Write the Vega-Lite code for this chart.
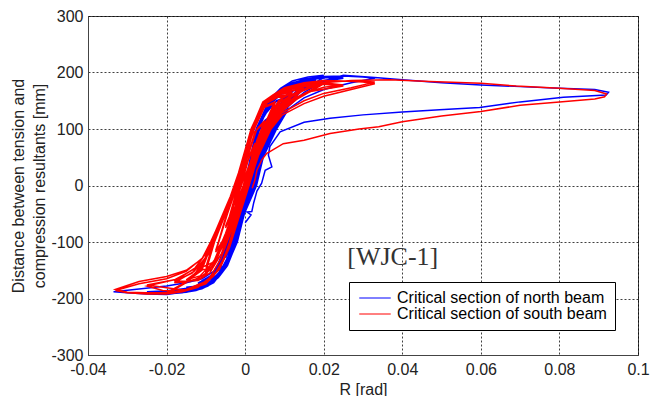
{
"$schema":"https://vega.github.io/schema/vega-lite/v6.json",
"width":550,"height":339,
"autosize":{"type":"none"},
"padding":{"left":88,"top":16,"right":24,"bottom":41},
"background":"white",
"config":{"view":{"stroke":"#444","strokeWidth":1},"font":"Liberation Sans"},
"datasets":{
"north":[
{"x":0.0015,"y":0},{"x":0.002,"y":15},{"x":0.0025,"y":30},
{"x":0.0012,"y":0},{"x":0,"y":-30},{"x":-0.0012,"y":-60},{"x":-0.0025,"y":-85},
{"x":-0.0008,"y":-50},{"x":0.0006,"y":-15},{"x":0.002,"y":15},{"x":0.0025,"y":28},
{"x":0.001,"y":-5},{"x":-0.0005,"y":-40},{"x":-0.0025,"y":-82},
{"x":-0.0008,"y":-45},{"x":0.0012,"y":0},{"x":0.0028,"y":40},{"x":0.004,"y":70},{"x":0.005,"y":92},
{"x":0.0035,"y":80},{"x":0.0022,"y":50},{"x":0.0008,"y":0},{"x":-0.0012,"y":-50},{"x":-0.0032,"y":-100},{"x":-0.005,"y":-128},
{"x":-0.003,"y":-100},{"x":-0.001,"y":-50},{"x":0.0014,"y":0},{"x":0.003,"y":45},{"x":0.0042,"y":72},{"x":0.005,"y":90},
{"x":0.0033,"y":78},{"x":0.002,"y":50},{"x":0.0006,"y":0},{"x":-0.0014,"y":-50},{"x":-0.0034,"y":-100},{"x":-0.005,"y":-126},
{"x":-0.0028,"y":-100},{"x":-0.0008,"y":-50},{"x":0.0017,"y":0},{"x":0.0034,"y":50},{"x":0.0058,"y":100},{"x":0.0075,"y":128},
{"x":0.005,"y":115},{"x":0.003,"y":90},{"x":0.0018,"y":50},{"x":0.0005,"y":0},{"x":-0.0015,"y":-50},{"x":-0.0037,"y":-100},{"x":-0.0062,"y":-140},{"x":-0.0075,"y":-153},
{"x":-0.0055,"y":-145},{"x":-0.0028,"y":-100},{"x":-0.0007,"y":-50},{"x":0.0019,"y":0},{"x":0.0036,"y":50},{"x":0.006,"y":100},{"x":0.0075,"y":126},
{"x":0.0048,"y":112},{"x":0.0028,"y":90},{"x":0.0017,"y":50},{"x":0.0004,"y":0},{"x":-0.0016,"y":-50},{"x":-0.0038,"y":-100},{"x":-0.0064,"y":-140},{"x":-0.0075,"y":-150},
{"x":-0.005,"y":-140},{"x":-0.0026,"y":-100},{"x":-0.0006,"y":-50},{"x":0.0021,"y":0},{"x":0.0038,"y":50},{"x":0.0065,"y":100},{"x":0.0085,"y":135},{"x":0.01,"y":155},
{"x":0.008,"y":150},{"x":0.0055,"y":130},{"x":0.003,"y":100},{"x":0.0017,"y":50},{"x":0.0004,"y":0},{"x":-0.0018,"y":-50},{"x":-0.004,"y":-100},{"x":-0.0066,"y":-145},{"x":-0.0085,"y":-162},{"x":-0.01,"y":-170},
{"x":-0.0075,"y":-160},{"x":-0.0048,"y":-140},{"x":-0.0024,"y":-100},{"x":-0.0005,"y":-50},{"x":0.0023,"y":0},{"x":0.004,"y":50},{"x":0.0068,"y":100},{"x":0.0088,"y":135},{"x":0.01,"y":152},
{"x":0.0078,"y":148},{"x":0.0053,"y":128},{"x":0.0029,"y":100},{"x":0.0016,"y":50},{"x":0.0003,"y":0},{"x":-0.0019,"y":-50},{"x":-0.0042,"y":-100},{"x":-0.0068,"y":-145},{"x":-0.0088,"y":-162},{"x":-0.01,"y":-168},
{"x":-0.008,"y":-165},{"x":-0.0055,"y":-150},{"x":-0.0033,"y":-118},{"x":-0.0015,"y":-75},{"x":0.0008,"y":-25},{"x":0.0025,"y":20},{"x":0.0036,"y":60},{"x":0.0055,"y":100},{"x":0.0078,"y":130},{"x":0.0095,"y":150},{"x":0.012,"y":168},
{"x":0.0095,"y":165},{"x":0.007,"y":148},{"x":0.0045,"y":120},{"x":0.0024,"y":80},{"x":0.001,"y":30},{"x":-0.0008,"y":-20},{"x":-0.0028,"y":-70},{"x":-0.005,"y":-118},{"x":-0.0078,"y":-155},{"x":-0.012,"y":-175},
{"x":-0.0088,"y":-170},{"x":-0.0062,"y":-155},{"x":-0.004,"y":-125},{"x":-0.0014,"y":-72},{"x":0.0011,"y":-20},{"x":0.0032,"y":30},{"x":0.0052,"y":80},{"x":0.0075,"y":120},{"x":0.0098,"y":150},{"x":0.012,"y":166},
{"x":0.0092,"y":162},{"x":0.0066,"y":145},{"x":0.004,"y":115},{"x":0.0021,"y":75},{"x":0.0006,"y":25},{"x":-0.001,"y":-25},{"x":-0.0031,"y":-75},{"x":-0.0055,"y":-122},{"x":-0.0083,"y":-158},{"x":-0.012,"y":-173},
{"x":-0.0075,"y":-162},{"x":-0.0048,"y":-145},{"x":-0.0023,"y":-100},{"x":-0.0004,"y":-50},{"x":0.0025,"y":0},{"x":0.0042,"y":50},{"x":0.0072,"y":100},{"x":0.0095,"y":140},{"x":0.012,"y":160},{"x":0.015,"y":180},
{"x":0.012,"y":178},{"x":0.009,"y":168},{"x":0.006,"y":145},{"x":0.003,"y":100},{"x":0.0017,"y":50},{"x":0.0004,"y":0},{"x":-0.002,"y":-50},{"x":-0.0043,"y":-100},{"x":-0.007,"y":-148},{"x":-0.0095,"y":-168},{"x":-0.012,"y":-177},{"x":-0.015,"y":-182},
{"x":-0.012,"y":-180},{"x":-0.009,"y":-172},{"x":-0.0065,"y":-158},{"x":-0.0045,"y":-140},{"x":-0.0022,"y":-100},{"x":-0.0004,"y":-50},{"x":0.0026,"y":0},{"x":0.0043,"y":50},{"x":0.0074,"y":100},{"x":0.0098,"y":140},{"x":0.0125,"y":162},{"x":0.015,"y":177},
{"x":0.012,"y":175},{"x":0.0088,"y":165},{"x":0.0058,"y":142},{"x":0.0029,"y":100},{"x":0.0016,"y":50},{"x":0.0003,"y":0},{"x":-0.0021,"y":-50},{"x":-0.0044,"y":-100},{"x":-0.0072,"y":-150},{"x":-0.0098,"y":-170},{"x":-0.012,"y":-178},{"x":-0.015,"y":-180},
{"x":-0.011,"y":-178},{"x":-0.008,"y":-168},{"x":-0.0055,"y":-148},{"x":-0.0032,"y":-112},{"x":-0.0012,"y":-65},{"x":0.0012,"y":-10},{"x":0.0033,"y":35},{"x":0.005,"y":75},{"x":0.0072,"y":110},{"x":0.01,"y":145},{"x":0.014,"y":172},{"x":0.018,"y":186},
{"x":0.014,"y":184},{"x":0.0105,"y":172},{"x":0.0075,"y":155},{"x":0.0048,"y":125},{"x":0.0025,"y":80},{"x":0.001,"y":30},{"x":-0.0009,"y":-22},{"x":-0.003,"y":-72},{"x":-0.0055,"y":-122},{"x":-0.0085,"y":-162},{"x":-0.013,"y":-181},{"x":-0.018,"y":-187},
{"x":-0.013,"y":-184},{"x":-0.0095,"y":-175},{"x":-0.0068,"y":-158},{"x":-0.0043,"y":-125},{"x":-0.0018,"y":-70},{"x":0.001,"y":-12},{"x":0.0035,"y":38},{"x":0.0054,"y":80},{"x":0.0078,"y":115},{"x":0.0105,"y":148},{"x":0.0145,"y":173},{"x":0.018,"y":184},
{"x":0.0135,"y":181},{"x":0.0098,"y":168},{"x":0.0068,"y":150},{"x":0.0043,"y":120},{"x":0.0022,"y":75},{"x":0.0007,"y":25},{"x":-0.0012,"y":-25},{"x":-0.0034,"y":-78},{"x":-0.006,"y":-128},{"x":-0.009,"y":-165},{"x":-0.013,"y":-180},{"x":-0.018,"y":-186},
{"x":-0.012,"y":-181},{"x":-0.009,"y":-176},{"x":-0.0065,"y":-160},{"x":-0.0045,"y":-142},{"x":-0.0021,"y":-100},{"x":-0.0003,"y":-50},{"x":0.0027,"y":0},{"x":0.0044,"y":50},{"x":0.0076,"y":100},{"x":0.01,"y":140},{"x":0.013,"y":165},{"x":0.017,"y":185},{"x":0.02,"y":195},
{"x":0.016,"y":192},{"x":0.012,"y":185},{"x":0.009,"y":172},{"x":0.006,"y":150},{"x":0.0029,"y":100},{"x":0.0016,"y":50},{"x":0.0003,"y":0},{"x":-0.0021,"y":-50},{"x":-0.0045,"y":-100},{"x":-0.0073,"y":-150},{"x":-0.01,"y":-172},{"x":-0.015,"y":-185},{"x":-0.02,"y":-192},
{"x":-0.016,"y":-190},{"x":-0.0125,"y":-186},{"x":-0.0095,"y":-178},{"x":-0.0068,"y":-163},{"x":-0.0046,"y":-142},{"x":-0.002,"y":-100},{"x":-0.0002,"y":-50},{"x":0.0028,"y":0},{"x":0.0045,"y":50},{"x":0.0078,"y":100},{"x":0.0105,"y":140},{"x":0.014,"y":165},{"x":0.017,"y":180},{"x":0.02,"y":190},
{"x":0.016,"y":188},{"x":0.012,"y":182},{"x":0.009,"y":170},{"x":0.0059,"y":148},{"x":0.0028,"y":100},{"x":0.0015,"y":50},{"x":0.0002,"y":0},{"x":-0.0022,"y":-50},{"x":-0.0046,"y":-100},{"x":-0.0074,"y":-150},{"x":-0.0102,"y":-172},{"x":-0.015,"y":-183},{"x":-0.02,"y":-189},
{"x":-0.016,"y":-188},{"x":-0.0125,"y":-184},{"x":-0.0098,"y":-178},{"x":-0.0072,"y":-165},{"x":-0.005,"y":-145},{"x":-0.003,"y":-115},{"x":-0.0012,"y":-70},{"x":0.0012,"y":-15},{"x":0.0035,"y":40},{"x":0.0055,"y":85},{"x":0.008,"y":120},{"x":0.011,"y":150},{"x":0.015,"y":172},{"x":0.02,"y":186},{"x":0.025,"y":192},
{"x":0.02,"y":192},{"x":0.015,"y":186},{"x":0.0115,"y":178},{"x":0.0088,"y":165},{"x":0.0062,"y":145},{"x":0.004,"y":110},{"x":0.0022,"y":65},{"x":0.0008,"y":15},{"x":-0.0012,"y":-35},{"x":-0.0034,"y":-85},{"x":-0.006,"y":-132},{"x":-0.0088,"y":-165},{"x":-0.013,"y":-180},{"x":-0.018,"y":-185},{"x":-0.025,"y":-189},
{"x":-0.02,"y":-191},{"x":-0.015,"y":-189},{"x":-0.011,"y":-183},{"x":-0.008,"y":-172},{"x":-0.0058,"y":-152},{"x":-0.0038,"y":-122},{"x":-0.0016,"y":-75},{"x":0.0008,"y":-20},{"x":0.0033,"y":35},{"x":0.0052,"y":80},{"x":0.0078,"y":118},{"x":0.0108,"y":150},{"x":0.0148,"y":172},{"x":0.02,"y":184},{"x":0.025,"y":190},
{"x":0.021,"y":191},{"x":0.016,"y":187},{"x":0.012,"y":180},{"x":0.009,"y":168},{"x":0.0064,"y":148},{"x":0.0042,"y":112},{"x":0.0024,"y":68},{"x":0.0009,"y":18},{"x":-0.001,"y":-32},{"x":-0.0032,"y":-82},{"x":-0.0058,"y":-130},{"x":-0.0086,"y":-162},{"x":-0.012,"y":-178},{"x":-0.018,"y":-186},{"x":-0.025,"y":-188},
{"x":-0.016,"y":-189},{"x":-0.0125,"y":-185},{"x":-0.0095,"y":-177},{"x":-0.0068,"y":-160},{"x":-0.0046,"y":-140},{"x":-0.002,"y":-100},{"x":-0.0002,"y":-50},{"x":0.0029,"y":0},{"x":0.0046,"y":50},{"x":0.008,"y":100},{"x":0.011,"y":135},{"x":0.015,"y":155},{"x":0.02,"y":170},{"x":0.027,"y":182},{"x":0.033,"y":190},
{"x":0.03,"y":192},{"x":0.025,"y":194},{"x":0.02,"y":193},{"x":0.015,"y":188},{"x":0.011,"y":178},{"x":0.008,"y":160},{"x":0.0055,"y":140},{"x":0.0028,"y":100},{"x":0.0015,"y":50},{"x":0.0002,"y":0},{"x":-0.0022,"y":-50},{"x":-0.0047,"y":-100},{"x":-0.0075,"y":-150},{"x":-0.011,"y":-165},{"x":-0.015,"y":-172},{"x":-0.02,"y":-178},{"x":-0.027,"y":-183},{"x":-0.0335,"y":-188},
{"x":-0.03,"y":-190},{"x":-0.025,"y":-192},{"x":-0.02,"y":-193},{"x":-0.0157,"y":-189},{"x":-0.0114,"y":-181},{"x":-0.0081,"y":-166},{"x":-0.006,"y":-148},{"x":-0.0038,"y":-125},{"x":-0.002,"y":-90},{"x":-0.0002,"y":-45},{"x":0.0028,"y":0},{"x":0.0046,"y":50},{"x":0.008,"y":100},{"x":0.011,"y":140},{"x":0.015,"y":165},{"x":0.02,"y":185},{"x":0.025,"y":195},{"x":0.033,"y":191},
{"x":0.04,"y":187},{"x":0.05,"y":182},{"x":0.06,"y":178},{"x":0.07,"y":175},{"x":0.08,"y":172},{"x":0.089,"y":170},{"x":0.0925,"y":165},{"x":0.0919,"y":160},{"x":0.081,"y":156},{"x":0.07,"y":148},{"x":0.0597,"y":138},{"x":0.0495,"y":134},{"x":0.04,"y":130},{"x":0.03,"y":125},{"x":0.0216,"y":119},{"x":0.015,"y":112},{"x":0.0089,"y":95},{"x":0.0063,"y":69},{"x":0.0059,"y":54},{"x":0.0068,"y":33},{"x":0.0051,"y":27},{"x":0.0042,"y":4},{"x":0.003,"y":-10},{"x":0.0022,"y":-30},{"x":0.0017,"y":-46},{"x":0.0005,"y":-47},{"x":0.0015,"y":-52},{"x":0,"y":-66}
],
"south":[
{"x":0.0005,"y":10},{"x":0.0013,"y":40},{"x":0.0025,"y":75},
{"x":0.0012,"y":55},{"x":0,"y":25},{"x":-0.0012,"y":0},{"x":-0.0025,"y":-35},
{"x":-0.001,"y":-10},{"x":0.0005,"y":20},{"x":0.0015,"y":45},{"x":0.0025,"y":72},
{"x":0.0008,"y":45},{"x":-0.0008,"y":10},{"x":-0.0025,"y":-32},
{"x":-0.001,"y":0},{"x":0.0013,"y":40},{"x":0.003,"y":80},{"x":0.005,"y":115},
{"x":0.003,"y":100},{"x":0.0006,"y":50},{"x":-0.0015,"y":0},{"x":-0.0035,"y":-50},{"x":-0.005,"y":-75},
{"x":-0.003,"y":-45},{"x":-0.0005,"y":0},{"x":0.0016,"y":45},{"x":0.004,"y":95},{"x":0.005,"y":112},
{"x":0.0025,"y":95},{"x":0.0003,"y":45},{"x":-0.0018,"y":0},{"x":-0.004,"y":-55},{"x":-0.005,"y":-72},
{"x":-0.0025,"y":-40},{"x":-0.0002,"y":0},{"x":0.0018,"y":45},{"x":0.0045,"y":100},{"x":0.0075,"y":148},
{"x":0.005,"y":140},{"x":0.002,"y":95},{"x":0,"y":45},{"x":-0.002,"y":0},{"x":-0.0045,"y":-50},{"x":-0.0065,"y":-95},{"x":-0.0075,"y":-118},
{"x":-0.0055,"y":-95},{"x":-0.003,"y":-50},{"x":0,"y":0},{"x":0.002,"y":45},{"x":0.0048,"y":100},{"x":0.0075,"y":145},
{"x":0.0048,"y":138},{"x":0.0018,"y":95},{"x":-0.0002,"y":45},{"x":-0.0021,"y":0},{"x":-0.0047,"y":-50},{"x":-0.0068,"y":-100},{"x":-0.0075,"y":-115},
{"x":-0.0055,"y":-100},{"x":-0.003,"y":-50},{"x":0.0003,"y":0},{"x":0.0024,"y":50},{"x":0.0052,"y":100},{"x":0.0075,"y":140},{"x":0.01,"y":160},
{"x":0.0075,"y":158},{"x":0.0045,"y":145},{"x":0.0015,"y":95},{"x":-0.0004,"y":45},{"x":-0.0022,"y":0},{"x":-0.005,"y":-50},{"x":-0.0078,"y":-100},{"x":-0.0095,"y":-140},{"x":-0.01,"y":-155},
{"x":-0.008,"y":-140},{"x":-0.0055,"y":-100},{"x":-0.0028,"y":-50},{"x":0.0005,"y":0},{"x":0.0026,"y":50},{"x":0.0055,"y":100},{"x":0.008,"y":142},{"x":0.01,"y":158},
{"x":0.0072,"y":155},{"x":0.0042,"y":140},{"x":0.0014,"y":95},{"x":-0.0005,"y":45},{"x":-0.0023,"y":0},{"x":-0.0052,"y":-50},{"x":-0.008,"y":-100},{"x":-0.0098,"y":-140},{"x":-0.01,"y":-152},
{"x":-0.0085,"y":-145},{"x":-0.006,"y":-110},{"x":-0.0035,"y":-65},{"x":-0.0008,"y":-15},{"x":0.0012,"y":25},{"x":0.0035,"y":75},{"x":0.0058,"y":120},{"x":0.0085,"y":150},{"x":0.012,"y":165},
{"x":0.009,"y":162},{"x":0.006,"y":152},{"x":0.0035,"y":125},{"x":0.0008,"y":70},{"x":-0.0012,"y":25},{"x":-0.0035,"y":-25},{"x":-0.0065,"y":-75},{"x":-0.0092,"y":-120},{"x":-0.012,"y":-150},
{"x":-0.0095,"y":-148},{"x":-0.0068,"y":-122},{"x":-0.0042,"y":-78},{"x":-0.0015,"y":-25},{"x":0.0018,"y":25},{"x":0.004,"y":70},{"x":0.0068,"y":118},{"x":0.0095,"y":148},{"x":0.012,"y":163},
{"x":0.0088,"y":158},{"x":0.0055,"y":146},{"x":0.003,"y":112},{"x":0.0004,"y":62},{"x":-0.0015,"y":18},{"x":-0.004,"y":-32},{"x":-0.007,"y":-80},{"x":-0.0098,"y":-125},{"x":-0.012,"y":-148},
{"x":-0.0078,"y":-135},{"x":-0.0052,"y":-100},{"x":-0.0026,"y":-50},{"x":0.0006,"y":0},{"x":0.0028,"y":50},{"x":0.006,"y":100},{"x":0.009,"y":140},{"x":0.012,"y":160},{"x":0.015,"y":172},
{"x":0.011,"y":170},{"x":0.0075,"y":160},{"x":0.0045,"y":145},{"x":0.0015,"y":100},{"x":-0.0005,"y":50},{"x":-0.0023,"y":0},{"x":-0.0053,"y":-50},{"x":-0.0083,"y":-100},{"x":-0.0105,"y":-140},{"x":-0.013,"y":-160},{"x":-0.015,"y":-170},
{"x":-0.012,"y":-165},{"x":-0.009,"y":-150},{"x":-0.0055,"y":-105},{"x":-0.0025,"y":-50},{"x":0.0007,"y":0},{"x":0.0029,"y":50},{"x":0.0062,"y":100},{"x":0.0095,"y":142},{"x":0.012,"y":158},{"x":0.015,"y":170},
{"x":0.011,"y":167},{"x":0.0078,"y":158},{"x":0.0047,"y":143},{"x":0.0016,"y":100},{"x":-0.0004,"y":50},{"x":-0.0022,"y":0},{"x":-0.0054,"y":-50},{"x":-0.0085,"y":-100},{"x":-0.0108,"y":-140},{"x":-0.013,"y":-157},{"x":-0.015,"y":-167},
{"x":-0.0115,"y":-160},{"x":-0.008,"y":-135},{"x":-0.005,"y":-85},{"x":-0.0022,"y":-30},{"x":0.0012,"y":20},{"x":0.0034,"y":65},{"x":0.0058,"y":112},{"x":0.009,"y":148},{"x":0.013,"y":165},{"x":0.018,"y":178},
{"x":0.014,"y":176},{"x":0.0095,"y":165},{"x":0.0062,"y":153},{"x":0.0032,"y":120},{"x":0.0006,"y":72},{"x":-0.0013,"y":28},{"x":-0.0038,"y":-25},{"x":-0.007,"y":-78},{"x":-0.0098,"y":-125},{"x":-0.013,"y":-152},{"x":-0.018,"y":-172},
{"x":-0.014,"y":-170},{"x":-0.01,"y":-158},{"x":-0.0072,"y":-130},{"x":-0.0047,"y":-88},{"x":-0.0018,"y":-30},{"x":0.0016,"y":22},{"x":0.0038,"y":68},{"x":0.0062,"y":112},{"x":0.0092,"y":145},{"x":0.013,"y":163},{"x":0.018,"y":176},
{"x":0.0135,"y":174},{"x":0.0092,"y":163},{"x":0.0058,"y":150},{"x":0.0028,"y":118},{"x":0.0002,"y":68},{"x":-0.0017,"y":22},{"x":-0.0043,"y":-30},{"x":-0.0075,"y":-85},{"x":-0.0102,"y":-130},{"x":-0.0135,"y":-155},{"x":-0.018,"y":-170},
{"x":-0.012,"y":-168},{"x":-0.009,"y":-155},{"x":-0.006,"y":-120},{"x":-0.0025,"y":-55},{"x":0.0008,"y":0},{"x":0.003,"y":50},{"x":0.0063,"y":100},{"x":0.0095,"y":135},{"x":0.013,"y":155},{"x":0.017,"y":170},{"x":0.02,"y":183},
{"x":0.015,"y":180},{"x":0.01,"y":172},{"x":0.007,"y":160},{"x":0.0045,"y":148},{"x":0.0016,"y":100},{"x":-0.0004,"y":50},{"x":-0.0021,"y":0},{"x":-0.0055,"y":-50},{"x":-0.0086,"y":-100},{"x":-0.011,"y":-150},{"x":-0.015,"y":-170},{"x":-0.02,"y":-190},
{"x":-0.015,"y":-185},{"x":-0.01,"y":-172},{"x":-0.0065,"y":-148},{"x":-0.004,"y":-110},{"x":-0.0018,"y":-55},{"x":0.0009,"y":0},{"x":0.0031,"y":50},{"x":0.0064,"y":100},{"x":0.0095,"y":132},{"x":0.013,"y":152},{"x":0.017,"y":168},{"x":0.02,"y":180},
{"x":0.015,"y":177},{"x":0.01,"y":170},{"x":0.007,"y":158},{"x":0.0046,"y":146},{"x":0.0016,"y":100},{"x":-0.0004,"y":50},{"x":-0.0021,"y":0},{"x":-0.0055,"y":-50},{"x":-0.0087,"y":-100},{"x":-0.0112,"y":-148},{"x":-0.015,"y":-172},{"x":-0.02,"y":-192},
{"x":-0.016,"y":-188},{"x":-0.012,"y":-180},{"x":-0.009,"y":-163},{"x":-0.0062,"y":-130},{"x":-0.0035,"y":-80},{"x":-0.0008,"y":-25},{"x":0.002,"y":25},{"x":0.0045,"y":80},{"x":0.0075,"y":125},{"x":0.011,"y":150},{"x":0.016,"y":165},{"x":0.02,"y":174},{"x":0.025,"y":178},
{"x":0.021,"y":181},{"x":0.016,"y":180},{"x":0.012,"y":175},{"x":0.0085,"y":166},{"x":0.0058,"y":152},{"x":0.0033,"y":125},{"x":0.0008,"y":75},{"x":-0.0012,"y":30},{"x":-0.0038,"y":-20},{"x":-0.007,"y":-72},{"x":-0.0098,"y":-118},{"x":-0.0125,"y":-145},{"x":-0.017,"y":-165},{"x":-0.025,"y":-178},
{"x":-0.021,"y":-186},{"x":-0.017,"y":-187},{"x":-0.0135,"y":-183},{"x":-0.0105,"y":-175},{"x":-0.008,"y":-160},{"x":-0.0055,"y":-130},{"x":-0.003,"y":-82},{"x":0,"y":-20},{"x":0.0022,"y":28},{"x":0.0048,"y":82},{"x":0.0078,"y":125},{"x":0.012,"y":152},{"x":0.017,"y":167},{"x":0.025,"y":176},
{"x":0.02,"y":179},{"x":0.015,"y":177},{"x":0.011,"y":171},{"x":0.008,"y":163},{"x":0.0055,"y":150},{"x":0.0031,"y":122},{"x":0.0006,"y":72},{"x":-0.0014,"y":28},{"x":-0.004,"y":-25},{"x":-0.0072,"y":-78},{"x":-0.0102,"y":-122},{"x":-0.013,"y":-148},{"x":-0.018,"y":-167},{"x":-0.025,"y":-176},
{"x":-0.015,"y":-186},{"x":-0.01,"y":-174},{"x":-0.0065,"y":-148},{"x":-0.004,"y":-110},{"x":-0.0015,"y":-55},{"x":0.001,"y":0},{"x":0.0032,"y":50},{"x":0.0066,"y":100},{"x":0.0095,"y":125},{"x":0.015,"y":145},{"x":0.02,"y":158},{"x":0.027,"y":170},{"x":0.033,"y":180},
{"x":0.03,"y":183},{"x":0.025,"y":185},{"x":0.02,"y":186},{"x":0.015,"y":182},{"x":0.01,"y":173},{"x":0.007,"y":160},{"x":0.0048,"y":148},{"x":0.0017,"y":100},{"x":-0.0003,"y":50},{"x":-0.002,"y":0},{"x":-0.0055,"y":-50},{"x":-0.0088,"y":-100},{"x":-0.011,"y":-130},{"x":-0.015,"y":-150},{"x":-0.02,"y":-161},{"x":-0.027,"y":-170},{"x":-0.033,"y":-184},
{"x":-0.03,"y":-189},{"x":-0.025,"y":-190},{"x":-0.02,"y":-190},{"x":-0.015,"y":-184},{"x":-0.01,"y":-170},{"x":-0.007,"y":-150},{"x":-0.0045,"y":-115},{"x":-0.002,"y":-55},{"x":0.0009,"y":0},{"x":0.0031,"y":50},{"x":0.0065,"y":100},{"x":0.0093,"y":128},{"x":0.015,"y":150},{"x":0.02,"y":163},{"x":0.027,"y":173},{"x":0.033,"y":183},
{"x":0.028,"y":185},{"x":0.02,"y":185},{"x":0.014,"y":180},{"x":0.0095,"y":170},{"x":0.0068,"y":158},{"x":0.0047,"y":146},{"x":0.0016,"y":100},{"x":-0.0004,"y":50},{"x":-0.0021,"y":0},{"x":-0.0055,"y":-50},{"x":-0.0087,"y":-100},{"x":-0.0108,"y":-128},{"x":-0.015,"y":-152},{"x":-0.02,"y":-165},{"x":-0.027,"y":-174},{"x":-0.033,"y":-186},
{"x":-0.03,"y":-190},{"x":-0.025,"y":-192},{"x":-0.02,"y":-192},{"x":-0.015,"y":-186},{"x":-0.01,"y":-174},{"x":-0.0068,"y":-150},{"x":-0.0045,"y":-112},{"x":-0.002,"y":-55},{"x":0.0009,"y":0},{"x":0.0031,"y":50},{"x":0.0064,"y":100},{"x":0.0095,"y":140},{"x":0.015,"y":170},{"x":0.02,"y":182},{"x":0.027,"y":186},{"x":0.0368,"y":187},{"x":0.047,"y":184},{"x":0.06,"y":181},{"x":0.069,"y":176},{"x":0.08,"y":172},{"x":0.089,"y":168},{"x":0.092,"y":162},
{"x":0.0915,"y":157},{"x":0.089,"y":153},{"x":0.08,"y":148},{"x":0.07,"y":142},{"x":0.06,"y":131},{"x":0.05,"y":123},{"x":0.04,"y":113},{"x":0.034,"y":104},{"x":0.029,"y":100},{"x":0.0216,"y":92},{"x":0.015,"y":80},{"x":0.0097,"y":74},{"x":0.0063,"y":60},{"x":0.0055,"y":57},{"x":0.0042,"y":45},{"x":0.003,"y":27},{"x":0.0025,"y":10},{"x":0.0018,"y":-5}
],
"label":[{"text":"[WJC-1]","x":0.026,"y":-140}]
},
"layer":[
{"data":{"name":"north"},
 "mark":{"type":"line","strokeWidth":1.5},
 "encoding":{
  "x":{"field":"x","type":"quantitative","title":"R [rad]",
   "scale":{"domain":[-0.04,0.1],"nice":false,"zero":false},
   "axis":{"values":[-0.04,-0.03,-0.02,-0.01,0,0.01,0.02,0.03,0.04,0.05,0.06,0.07,0.08,0.09,0.1],
    "labelExpr":"abs(round(datum.value*100)) % 2 == 0 ? toString(datum.value) : ''",
    "grid":true,"gridDash":[2,2],"gridColor":"#000","gridOpacity":0.75,"ticks":false,
    "domainColor":"#444","labelFontSize":16,"labelColor":"#222","labelPadding":6,"labelFlush":false,"labelOverlap":false,
    "titleFontSize":16,"titleFontWeight":"normal","titleColor":"#222","titlePadding":4}},
  "y":{"field":"y","type":"quantitative","title":["Distance between tension and","compression resultants [mm]"],
   "scale":{"domain":[-300,300],"nice":false,"zero":false},
   "axis":{"values":[-300,-250,-200,-150,-100,-50,0,50,100,150,200,250,300],
    "labelExpr":"datum.value % 100 == 0 ? toString(datum.value) : ''",
    "grid":true,"gridDash":[2,2],"gridColor":"#000","gridOpacity":0.75,"ticks":false,
    "domainColor":"#444","labelFontSize":16,"labelColor":"#222","labelPadding":5,"labelFlush":false,"labelOverlap":false,
    "titleFontSize":16,"titleFontWeight":"normal","titleColor":"#222","titlePadding":3,"titleLineHeight":21}},
  "color":{"datum":"Critical section of north beam",
   "scale":{"domain":["Critical section of north beam","Critical section of south beam"],"range":["#0000ff","#ff0000"]},
   "legend":{"orient":"none","legendX":261,"legendY":266,"title":null,"symbolType":"M-2.1,0H2.1","symbolSize":225,"symbolStrokeWidth":1,
    "symbolOffset":10,"strokeColor":"#000","fillColor":"#fff","padding":8,"labelFontSize":16,"labelColor":"#000","labelOffset":14,"rowPadding":0,"labelLimit":400}},
  "order":{"value":null}
 }},
{"data":{"name":"south"},
 "mark":{"type":"line","strokeWidth":1.5},
 "encoding":{
  "x":{"field":"x","type":"quantitative"},
  "y":{"field":"y","type":"quantitative"},
  "color":{"datum":"Critical section of south beam"},
  "order":{"value":null}
 }},
{"data":{"name":"label"},
 "mark":{"type":"text","font":"Liberation Serif","fontSize":26,"align":"left","baseline":"alphabetic","color":"#333"},
 "encoding":{
  "x":{"field":"x","type":"quantitative"},
  "y":{"field":"y","type":"quantitative"},
  "text":{"field":"text"}
 }}
]
}
